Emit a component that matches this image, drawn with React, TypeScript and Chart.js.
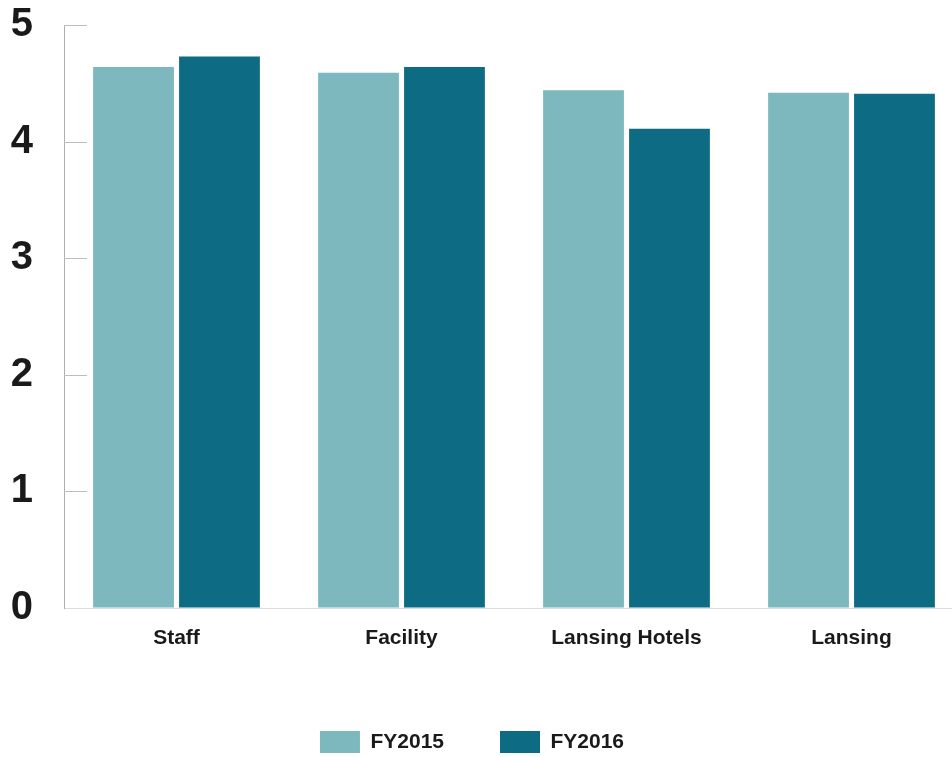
import React, { useEffect, useRef } from "react";
import { Chart, registerables } from "chart.js";

Chart.register(...registerables);

const categories = ["Staff", "Facility", "Lansing Hotels", "Lansing"];
const fy2015 = [4.64, 4.59, 4.44, 4.42];
const fy2016 = [4.73, 4.64, 4.11, 4.41];
const seriesLabels = ["FY2015", "FY2016"];
const yTicks = [0, 1, 2, 3, 4, 5];

const FONT = '"Liberation Sans", Arial, sans-serif';

const innerTicks = {
  id: "innerTicks",
  beforeDatasetsDraw(chart: any) {
    const { ctx, chartArea, scales } = chart;
    const y = scales.y;
    ctx.save();
    ctx.strokeStyle = "#bdbdbd";
    ctx.lineWidth = 1;
    yTicks.forEach((v) => {
      if (v === 0) return;
      const py = Math.round(y.getPixelForValue(v)) + 0.5;
      ctx.beginPath();
      ctx.moveTo(chartArea.left, py);
      ctx.lineTo(chartArea.left + 23, py);
      ctx.stroke();
    });
    ctx.restore();
  },
};

const shiftLegend = {
  id: "shiftLegend",
  afterLayout(chart: any) {
    if (chart.legend) {
      chart.legend.left -= 10;
      chart.legend.right -= 10;
    }
  },
};

export default function App() {
  const ref = useRef<HTMLCanvasElement>(null);
  useEffect(() => {
    if (!ref.current) return;
    const chart = new Chart(ref.current, {
      type: "bar",
      data: {
        labels: categories,
        datasets: [
          {
            label: seriesLabels[0],
            data: fy2015,
            backgroundColor: "#7db8bf",
            categoryPercentage: 0.764,
            barPercentage: 0.94,
          },
          {
            label: seriesLabels[1],
            data: fy2016,
            backgroundColor: "#0d6c83",
            categoryPercentage: 0.764,
            barPercentage: 0.94,
          },
        ],
      },
      options: {
        animation: false,
        responsive: false,
        devicePixelRatio: 1,
        layout: { padding: { top: 25, left: 0, right: 0, bottom: 0 } },
        plugins: {
          tooltip: { enabled: false },
          legend: {
            position: "bottom",
            labels: {
              boxWidth: 40,
              boxHeight: 22,
              padding: 56,
              color: "#1a1a1a",
              font: { family: FONT, size: 21, weight: "bold" },
            },
          },
        },
        scales: {
          x: {
            grid: { display: false },
            border: { display: true, color: "#dcdcdc", width: 1 },
            ticks: {
              color: "#1a1a1a",
              padding: 10,
              font: { family: FONT, size: 21, weight: "bold" },
            },
            afterFit(scale: any) {
              scale.height = 67;
              scale.paddingLeft = 0;
              scale.paddingRight = 0;
            },
          },
          y: {
            min: 0,
            max: 5,
            ticks: {
              stepSize: 1,
              padding: 31,
              color: "#1a1a1a",
              font: { family: FONT, size: 40, weight: "bold" },
            },
            grid: { drawOnChartArea: false, drawTicks: false },
            border: { display: true, color: "#b0b0b0", width: 1 },
            afterFit(scale: any) {
              scale.width = 64;
              scale.paddingTop = 0;
              scale.paddingBottom = 0;
            },
          },
        },
      },
      plugins: [innerTicks, shiftLegend],
    });
    return () => chart.destroy();
  }, []);
  return (
    <div
      style={{
        position: "fixed",
        left: 0,
        top: 0,
        width: 952,
        height: 757,
        overflow: "hidden",
        background: "#fff",
      }}
    >
      <canvas ref={ref} width={964} height={763} style={{ display: "block" }} />
    </div>
  );
}
